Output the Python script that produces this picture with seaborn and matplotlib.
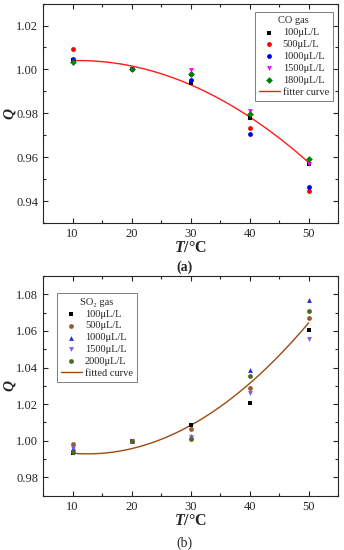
import numpy as np
import matplotlib
matplotlib.use('Agg')
import matplotlib.pyplot as plt
import seaborn as sns

# temperatures (deg C)
temps = [10, 20, 30, 40, 50]

# CO gas, Q values
co_labels = ['100μL/L', '500μL/L', '1000μL/L', '1500μL/L', '1800μL/L']
co_100 = [1.0042, 1.0000, 0.9936, 0.9777, 0.9570]
co_500 = [1.0091, 1.0000, 0.9978, 0.9735, 0.9445]
co_1000 = [1.0047, 1.0000, 0.9952, 0.9705, 0.9462]
co_1500 = [1.0030, 1.0000, 0.9998, 0.9810, 0.9571]
co_1800 = [1.0033, 1.0000, 0.9980, 0.9795, 0.9592]
co_fit = [-3.05e-5, 0.00067, 1.00035]   # quadratic coefficients of the fitted curve

# SO2 gas, Q values
so_labels = ['100μL/L', '500μL/L', '1000μL/L', '1500μL/L', '2000μL/L']
so_100 = [0.9932, 1.0000, 1.0088, 1.0204, 1.0606]
so_500 = [0.9983, 1.0000, 1.0062, 1.0288, 1.0673]
so_1000 = [0.9962, 1.0000, 1.0024, 1.0387, 1.0769]
so_1500 = [0.9958, 1.0000, 1.0020, 1.0260, 1.0556]
so_2000 = [0.9938, 1.0000, 1.0010, 1.0354, 1.0708]
so_fit = [5.1e-5, -0.00128, 1.0009]

sns.set_style('ticks')
plt.rcParams['font.family'] = ['Liberation Serif', 'DejaVu Serif']
plt.rcParams['mathtext.fontset'] = 'custom'
plt.rcParams['mathtext.it'] = 'Liberation Serif:italic:bold'
plt.rcParams['mathtext.rm'] = 'Liberation Serif:bold'
plt.rcParams['xtick.direction'] = 'in'
plt.rcParams['ytick.direction'] = 'in'
plt.rcParams['axes.linewidth'] = 0.8

fig = plt.figure(figsize=(3.44, 5.5), dpi=100)
ax1 = fig.add_axes([0.125, 0.5945, 0.858, 0.399])
ax2 = fig.add_axes([0.125, 0.0987, 0.858, 0.3995])


def draw(ax, series, labels, colors, markers, fit, fit_color, fit_label, title, legend_loc, bbox):
    for vals, lab, c, m in zip(series, labels, colors, markers):
        sns.scatterplot(x=temps, y=vals, color=c, marker=m, s=12, linewidth=0,
                        label=lab, ax=ax, zorder=3)
    xf = np.linspace(10, 50, 100)
    sns.lineplot(x=xf, y=np.polyval(fit, xf), color=fit_color, linewidth=1.0,
                 label=fit_label, ax=ax, zorder=2)
    ax.set_xlim(5, 55)
    ax.set_xticks([10, 20, 30, 40, 50])
    ax.set_xticks([5, 15, 25, 35, 45, 55], minor=True)
    ax.tick_params(which='both', top=True, right=True, labelsize=9, width=0.8)
    ax.tick_params(which='major', length=3.5)
    ax.tick_params(which='minor', length=2)
    ax.set_xlabel(r'$T$/°C', fontsize=11.5, fontweight='bold', labelpad=0)
    ax.set_ylabel('Q', fontsize=11, fontweight='bold', fontstyle='italic')
    ax.yaxis.set_label_coords(-0.09, 0.5)
    ax.yaxis.set_major_formatter(matplotlib.ticker.FormatStrFormatter('%.2f'))
    leg = ax.legend(title=title, loc=legend_loc, bbox_to_anchor=bbox, fontsize=7.5,
                    title_fontsize=7.5, frameon=True, fancybox=False, edgecolor='#444444',
                    handlelength=2.0, handletextpad=0.3, borderpad=0.4, labelspacing=0.25,
                    borderaxespad=0.2, markerscale=1.0)
    leg.get_frame().set_linewidth(0.6)
    leg.get_title().set_ha('center')


draw(ax1, [co_100, co_500, co_1000, co_1500, co_1800], co_labels,
     ['black', '#ff0000', '#0000ee', '#ff00ff', '#008000'],
     ['s', 'o', 'o', 'v', 'D'],
     co_fit, '#ff1a1a', 'fitter curve', 'CO gas', 'upper right', (0.99, 0.97))
ax1.set_ylim(0.93, 1.03)
ax1.set_yticks([0.94, 0.96, 0.98, 1.00, 1.02])
ax1.set_yticks([0.93, 0.95, 0.97, 0.99, 1.01, 1.03], minor=True)

draw(ax2, [so_100, so_500, so_1000, so_1500, so_2000], so_labels,
     ['black', '#9a5b2e', '#2a2ad0', '#7a5cf0', '#4f6a22'],
     ['s', 'o', '^', 'v', 'o'],
     so_fit, '#9b4a12', 'fitted curve', 'SO₂ gas', 'upper left', (0.04, 0.93))
ax2.set_ylim(0.97, 1.09)
ax2.set_yticks([0.98, 1.00, 1.02, 1.04, 1.06, 1.08])
ax2.set_yticks([0.97, 0.99, 1.01, 1.03, 1.05, 1.07, 1.09], minor=True)

fig.text(0.535, 1 - 267 / 550, '(a)', ha='center', va='center', fontsize=10, fontweight='bold')
fig.text(0.535, 1 - 543 / 550, '(b)', ha='center', va='center', fontsize=10)

fig.savefig('out.png', dpi=100)
